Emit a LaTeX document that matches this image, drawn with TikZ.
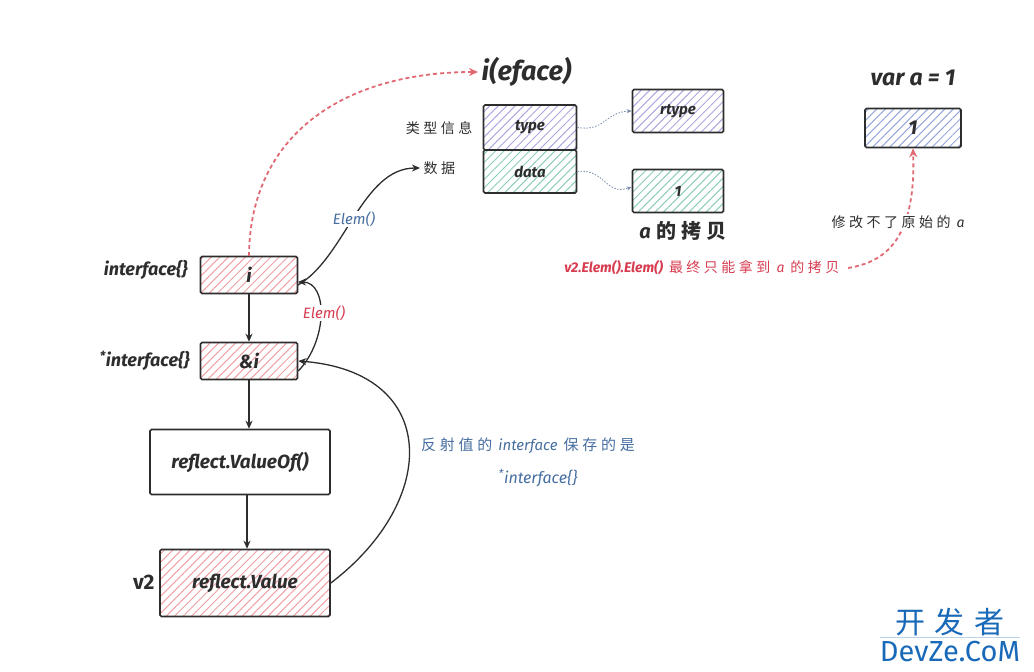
\documentclass[tikz,border=0pt]{standalone}
\usepackage{fontspec}
\setmainfont{Fira Sans}
\newfontfamily\cjk[LetterSpace=25]{Noto Sans CJK SC}
\newcommand\lat{\rmfamily\itshape}
\newcommand\gap{\hspace{6pt}}
\usetikzlibrary{patterns.meta,arrows.meta}
\definecolor{ink}{RGB}{45,45,45}
\definecolor{pinkh}{RGB}{238,160,165}
\definecolor{purph}{RGB}{175,165,225}
\definecolor{tealh}{RGB}{140,205,185}
\definecolor{blueh}{RGB}{150,165,220}
\definecolor{redtxt}{RGB}{215,60,80}
\definecolor{reddash}{RGB}{225,105,115}
\definecolor{bluetxt}{RGB}{70,110,160}
\definecolor{dotc}{RGB}{120,140,170}
\definecolor{wmblue}{RGB}{25,105,185}
\begin{document}
\begin{tikzpicture}[x=1pt,y=-1pt,
  box/.style={draw=ink,line width=1.6pt,rounded corners=1.5pt,inner sep=0pt,
    font=\bfseries\itshape\fontsize{19}{21}\selectfont,text=ink},
  hatch/.style={pattern={Lines[angle=45,distance=6pt,line width=1pt]},pattern color=#1},
  lbl/.style={font=\bfseries\itshape\fontsize{18}{20}\selectfont,text=ink},
  zh/.style={font=\cjk\fontsize{14}{16}\selectfont,text=ink},
  conn/.style={draw=ink,line width=1.3pt,-{Stealth[length=8pt,width=7pt]}},
  dots/.style={draw=dotc,line width=0.8pt,dash pattern=on 1.5pt off 1.5pt,-{Stealth[length=5pt,width=4pt]}},
  reddash/.style={draw=reddash,line width=1.8pt,dash pattern=on 4pt off 3pt,-{Stealth[length=9pt,width=8pt]}}]
\useasboundingbox (0,0) rectangle (1034,672);

% left column
\node[box,hatch=pinkh,minimum width=97pt,minimum height=37pt] (i) at (249,275) {i};
\node[box,hatch=pinkh,minimum width=97pt,minimum height=37pt] (ai) at (249,361) {\&i};
\node[box,minimum width=180pt,minimum height=65pt] (vof) at (240,462) {reflect.ValueOf()};
\node[box,hatch=pinkh,minimum width=170pt,minimum height=67pt] (val) at (245,583) {reflect.Value};
\node[lbl,anchor=east] (ityp) at (191,270) {interface\{\}};
\node[lbl,anchor=east] (atyp) at (193,361) {\textsuperscript{*}interface\{\}};
\node[lbl,font=\bfseries\fontsize{21}{23}\selectfont,anchor=east] (v2) at (158,582) {v2};

% eface
\node[lbl,font=\bfseries\itshape\fontsize{27}{29}\selectfont,anchor=west] (eface) at (478,72) {i(eface)};
\node[box,hatch=purph,minimum width=93pt,minimum height=45pt,font=\bfseries\itshape\fontsize{15}{17}\selectfont] (type) at (530,127.5) {type};
\node[box,hatch=tealh,minimum width=93pt,minimum height=43pt,font=\bfseries\itshape\fontsize{15}{17}\selectfont] (data) at (530,171.5) {data};
\node[zh,anchor=east] (leixing) at (476,128) {类型信息};
\node[zh,anchor=west] (shuju) at (420,168) {数据};
\node[box,hatch=purph,minimum width=91pt,minimum height=43pt,font=\bfseries\itshape\fontsize{15}{17}\selectfont] (rtype) at (678,111) {rtype};
\node[box,hatch=tealh,minimum width=91pt,minimum height=43pt,font=\bfseries\itshape\fontsize{15}{17}\selectfont] (one) at (678,191) {1};
\node[lbl,font=\bfseries\fontsize{20}{22}\selectfont] (copy) at (683,231) {\lat a\gap\cjk 的拷贝};

% original a
\node[lbl,font=\bfseries\itshape\fontsize{23}{25}\selectfont] (vara) at (913,78) {var a = 1};
\node[box,hatch=blueh,minimum width=96pt,minimum height=39pt,font=\bfseries\itshape\fontsize{20}{22}\selectfont] (orig) at (913,128) {1};

% connectors
\draw[conn] (i.south) -- (ai.north);
\draw[conn] (ai.south) -- (ai.south |- vof.north);
\draw[conn] (vof.south -| 247,0) -- (247,0 |- val.north);
\draw[conn] (val.east) .. controls (440,500) and (440,372) .. (ai.east);
\draw[conn] ([yshift=-10pt]ai.east) .. controls (328,340) and (328,282) .. ([yshift=-7pt]i.east);
\node[font=\itshape\fontsize{15}{17}\selectfont,text=redtxt,fill=white,inner sep=1pt] (elem1) at (324,313) {Elem()};
\draw[conn] ([yshift=-10pt]i.east) .. controls (345,258) and (362,168) .. (shuju.west);
\node[font=\itshape\fontsize{15}{17}\selectfont,text=bluetxt,fill=white,inner sep=1pt] (elem2) at (354,219) {Elem()};
\draw[reddash] (i.north) .. controls (250,130) and (350,72) .. (eface.west);
\draw[dots] (type.east) .. controls (605,132) and (605,112) .. (rtype.west);
\draw[dots] (data.east) .. controls (605,168) and (605,196) .. ([yshift=4pt]one.west);

% notes
\node[font=\fontsize{14}{16}\selectfont,text=redtxt,anchor=east] (note) at (843,268) {\bfseries\itshape v2.Elem().Elem()\gap\cjk\mdseries 最终只能拿到\gap\lat a\gap\cjk 的拷贝};
\coordinate (noteend) at (848,268);
\draw[reddash] (noteend) .. controls (885,262) and (916,240) .. (orig.south);
\node[zh,fill=white,inner sep=2pt] (nochange) at (898,222) {修改不了原始的\gap\lat a};
\node[font=\cjk\fontsize{15}{17}\selectfont,text=bluetxt] (refl1) at (528,446) {反射值的\gap\lat interface\gap\cjk 保存的是};
\node[font=\itshape\fontsize{16}{18}\selectfont,text=bluetxt] (refl2) at (538,478) {\textsuperscript{*}interface\{\}};

% watermark
\node[font=\cjk\fontsize{30}{32}\selectfont,text=wmblue] (wm1) at (950,622) {开\hspace{10pt}发\hspace{10pt}者};
\draw[wmblue!30,line width=0.5pt] (880,637) -- (1020,637);
\node[font=\fontsize{29}{31}\selectfont,text=wmblue] (wm2) at (950,652) {DevZe.CoM};
\end{tikzpicture}
\end{document}
